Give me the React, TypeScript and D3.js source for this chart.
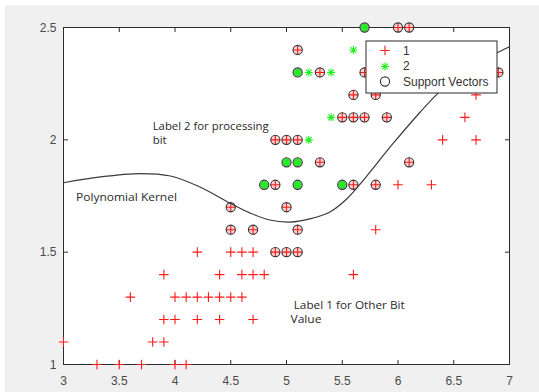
import React from 'react';
import * as d3 from 'd3';

// ---- data ----
const xTicks = [3, 3.5, 4, 4.5, 5, 5.5, 6, 6.5, 7];
const yTicks = [1, 1.5, 2, 2.5];
const xTickLabels = ['3', '3.5', '4', '4.5', '5', '5.5', '6', '6.5', '7'];
const yTickLabels = ['1', '1.5', '2', '2.5'];

// class 1 (red +), not support vectors
const class1X = [3.0, 3.3, 3.5, 3.7, 4.0, 4.1, 3.8, 3.9, 3.9, 4.0, 4.2, 4.4, 4.7, 3.6, 4.0, 4.1, 4.2, 4.3, 4.4, 4.5, 4.6, 3.9, 4.4, 4.6, 4.7, 4.8, 5.6, 4.2, 4.5, 4.6, 4.7, 5.8, 6.0, 6.3, 6.4, 6.7, 6.6, 6.7];
const class1Y = [1.1, 1.0, 1.0, 1.0, 1.0, 1.0, 1.1, 1.1, 1.2, 1.2, 1.2, 1.2, 1.2, 1.3, 1.3, 1.3, 1.3, 1.3, 1.3, 1.3, 1.3, 1.4, 1.4, 1.4, 1.4, 1.4, 1.4, 1.5, 1.5, 1.5, 1.5, 1.6, 1.8, 1.8, 2.0, 2.0, 2.1, 2.2];

// class 1 support vectors
const class1SVX = [4.5, 4.5, 4.7, 4.9, 5.0, 5.1, 5.1, 5.0, 4.9, 5.6, 5.8, 5.3, 6.1, 4.9, 5.0, 5.1, 5.5, 5.6, 5.7, 5.9, 5.6, 5.8, 5.3, 5.7, 6.9, 5.1, 6.0, 6.1];
const class1SVY = [1.6, 1.7, 1.6, 1.5, 1.5, 1.5, 1.6, 1.7, 1.8, 1.8, 1.8, 1.9, 1.9, 2.0, 2.0, 2.0, 2.1, 2.1, 2.1, 2.1, 2.2, 2.2, 2.3, 2.3, 2.3, 2.4, 2.5, 2.5];

// class 2 (green *), not support vectors
const class2X = [5.2, 5.4, 5.2, 5.4, 5.6];
const class2Y = [2.0, 2.1, 2.3, 2.3, 2.4];

// class 2 support vectors
const class2SVX = [4.8, 5.1, 5.5, 5.0, 5.1, 5.1, 5.7];
const class2SVY = [1.8, 1.8, 1.8, 1.9, 1.9, 2.3, 2.5];

// decision boundary (polynomial kernel)
const boundaryX = [3.0, 3.33, 3.69, 3.96, 4.22, 4.49, 4.67, 4.85, 5.03, 5.21, 5.39, 5.53, 5.66, 5.75, 5.96, 6.2, 6.38, 6.6, 6.89, 7.0];
const boundaryY = [1.809, 1.835, 1.85, 1.839, 1.791, 1.719, 1.675, 1.643, 1.634, 1.648, 1.679, 1.732, 1.803, 1.857, 1.986, 2.124, 2.218, 2.312, 2.388, 2.414];

const legendLabels = ['1', '2', 'Support Vectors'];

const W = 539;
const H = 392;
const L = 63.5, R = 509.5, T = 27.5, B = 364.5;

const x = d3.scaleLinear().domain([3, 7]).range([L, R]);
const y = d3.scaleLinear().domain([1, 2.5]).range([B, T]);

const RED = '#ff1a1a';
const GREEN = '#22ee22';
const AXIS = '#2b2b2b';
const TICKTXT = '#4a4a4a';

function Plus({ cx, cy }: { cx: number; cy: number }) {
  const a = 4.8;
  return (
    <path d={`M${cx - a},${cy}H${cx + a}M${cx},${cy - a}V${cy + a}`} stroke={RED} strokeWidth={1.1} fill="none" />
  );
}

function Star({ cx, cy }: { cx: number; cy: number }) {
  const a = 4;
  const b = 2.9;
  return (
    <path
      d={`M${cx - a},${cy}H${cx + a}M${cx},${cy - a}V${cy + a}M${cx - b},${cy - b}L${cx + b},${cy + b}M${cx - b},${cy + b}L${cx + b},${cy - b}`}
      stroke={GREEN}
      strokeWidth={1.1}
      fill="none"
    />
  );
}

function SVRing({ cx, cy }: { cx: number; cy: number }) {
  return <circle cx={cx} cy={cy} r={4.6} fill="none" stroke="#333" strokeWidth={1.1} />;
}

export default function App() {
  const line = d3
    .line<number>()
    .x((i) => x(boundaryX[i]))
    .y((i) => y(boundaryY[i]))
    .curve(d3.curveCatmullRom);
  const idx = boundaryX.map((_, i) => i);

  return (
    <svg
      width={W}
      height={H}
      style={{ position: 'absolute', left: 0, top: 0, display: 'block' }}
      fontFamily="'Liberation Sans', Arial, sans-serif"
    >
      <rect x={0} y={0} width={W} height={H} fill="#ffffff" />
      <rect x={5} y={5} width={W - 5} height={H - 5} fill="#f0f0f0" />
      <defs>
        <clipPath id="axclip">
          <rect x={L} y={T} width={R - L} height={B - T} />
        </clipPath>
      </defs>
      <rect x={L} y={T} width={R - L} height={B - T} fill="#ffffff" />

      {/* ticks */}
      {xTicks.map((t, i) => (
        <g key={'xt' + i}>
          <line x1={x(t)} x2={x(t)} y1={B} y2={B - 4.5} stroke={AXIS} />
          <line x1={x(t)} x2={x(t)} y1={T} y2={T + 4.5} stroke={AXIS} />
          <text x={x(t)} y={B + 20} textAnchor="middle" fontSize={12} fill={TICKTXT}>
            {xTickLabels[i]}
          </text>
        </g>
      ))}
      {yTicks.map((t, i) => (
        <g key={'yt' + i}>
          <line x1={L} x2={L + 4.5} y1={y(t)} y2={y(t)} stroke={AXIS} />
          <line x1={R} x2={R - 4.5} y1={y(t)} y2={y(t)} stroke={AXIS} />
          <text x={L - 7} y={y(t) + 4.3} textAnchor="end" fontSize={12} fill={TICKTXT}>
            {yTickLabels[i]}
          </text>
        </g>
      ))}
      <rect x={L} y={T} width={R - L} height={B - T} fill="none" stroke={AXIS} strokeWidth={1} />

      {/* class 1 */}
      {class1X.map((v, i) => (
        <Plus key={'c1' + i} cx={x(v)} cy={y(class1Y[i])} />
      ))}
      {class1SVX.map((v, i) => (
        <g key={'c1s' + i}>
          <circle cx={x(v)} cy={y(class1SVY[i])} r={4.2} fill="#f7d2d2" />
          <Plus cx={x(v)} cy={y(class1SVY[i])} />
          <SVRing cx={x(v)} cy={y(class1SVY[i])} />
        </g>
      ))}
      {/* class 2 */}
      {class2X.map((v, i) => (
        <Star key={'c2' + i} cx={x(v)} cy={y(class2Y[i])} />
      ))}
      {class2SVX.map((v, i) => (
        <g key={'c2s' + i}>
          <circle cx={x(v)} cy={y(class2SVY[i])} r={4} fill="#3ddc3d" />
          <Star cx={x(v)} cy={y(class2SVY[i])} />
          <SVRing cx={x(v)} cy={y(class2SVY[i])} />
        </g>
      ))}

      {/* boundary */}
      <path d={line(idx) || ''} fill="none" stroke="#3a3a3a" strokeWidth={1.2} clipPath="url(#axclip)" />

      {/* annotations */}
      <g fontFamily="'Open Sans', 'Noto Sans', sans-serif" fontSize={10.5} fill="#2a2a2a">
        <text x={x(3.8)} y={y(2.045)} textLength={116} lengthAdjust="spacingAndGlyphs">Label 2 for processing</text>
        <text x={x(3.8)} y={y(1.982)} textLength={14} lengthAdjust="spacingAndGlyphs">bit</text>
        <text x={x(3.112)} y={y(1.729)} textLength={101} lengthAdjust="spacingAndGlyphs">Polynomial Kernel</text>
        <text x={x(5.065)} y={y(1.247)} textLength={111} lengthAdjust="spacingAndGlyphs">Label 1 for Other Bit</text>
        <text x={x(5.036)} y={y(1.186)} textLength={31} lengthAdjust="spacingAndGlyphs">Value</text>
      </g>

      {/* legend */}
      <g>
        <rect x={366} y={41} width={131} height={52} fill="#ffffff" stroke={AXIS} strokeWidth={1} />
        <Plus cx={385} cy={50.5} />
        <Star cx={385} cy={66.5} />
        <circle cx={385} cy={81.5} r={4.6} fill="none" stroke="#333" strokeWidth={1.1} />
        {legendLabels.map((lab, i) => (
          <text key={'lg' + i} x={403} y={50.5 + i * 15.5 + 4.3} fontSize={12} fill="#333">
            {lab}
          </text>
        ))}
      </g>
    </svg>
  );
}
